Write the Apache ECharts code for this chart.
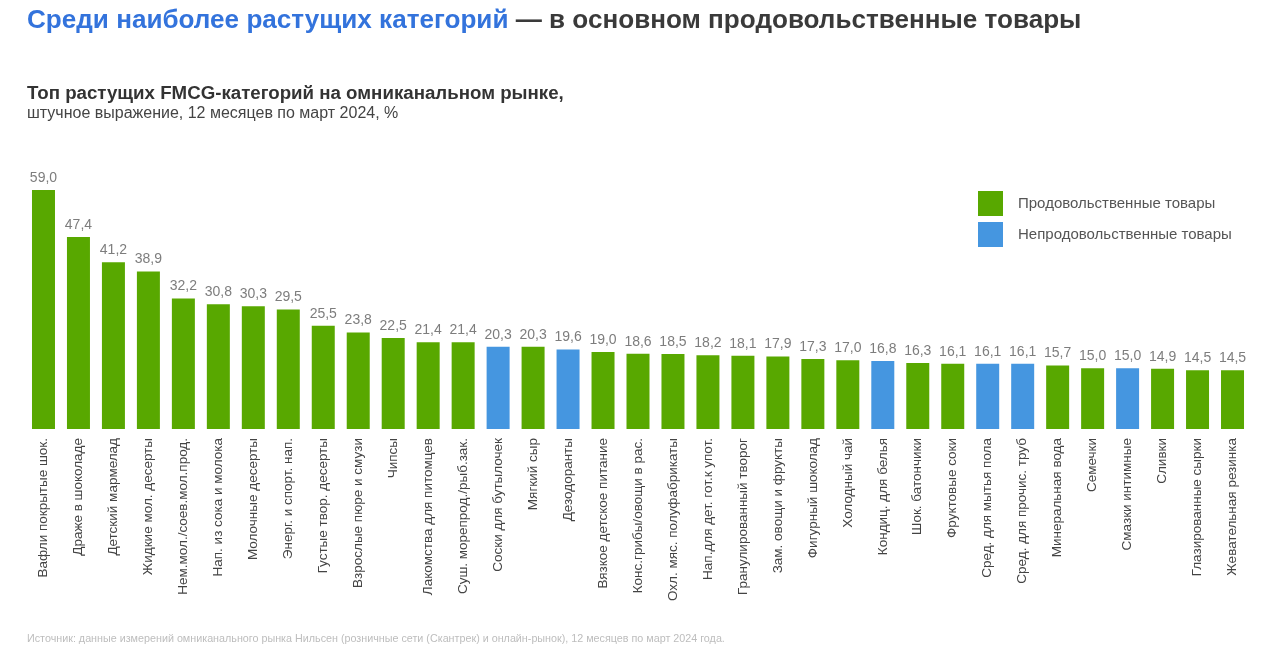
<!DOCTYPE html>
<html><head><meta charset="utf-8">
<script src="https://cdn.jsdelivr.net/npm/echarts@6/dist/echarts.min.js"></script>
<style>html,body{margin:0;padding:0;background:#fff}#c{width:1280px;height:648px}</style>
</head><body><div id="c"></div>
<script>
const categories = ["Вафли покрытые шок.","Драже в шоколаде","Детский мармелад","Жидкие мол. десерты","Нем.мол./соев.мол.прод.","Нап. из сока и молока","Молочные десерты","Энерг. и спорт. нап.","Густые твор. десерты","Взрослые пюре и смузи","Чипсы","Лакомства для питомцев","Суш. морепрод./рыб.зак.","Соски для бутылочек","Мягкий сыр","Дезодоранты","Вязкое детское питание","Конс.грибы/овощи в рас.","Охл. мяс. полуфабрикаты","Нап.для дет. гот.к упот.","Гранулированный творог","Зам. овощи и фрукты","Фигурный шоколад","Холодный чай","Кондиц. для белья","Шок. батончики","Фруктовые соки","Сред. для мытья пола","Сред. для прочис. труб","Минеральная вода","Семечки","Смазки интимные","Сливки","Глазированные сырки","Жевательная резинка"];
const values = [59.0,47.4,41.2,38.9,32.2,30.8,30.3,29.5,25.5,23.8,22.5,21.4,21.4,20.3,20.3,19.6,19.0,18.6,18.5,18.2,18.1,17.9,17.3,17.0,16.8,16.3,16.1,16.1,16.1,15.7,15.0,15.0,14.9,14.5,14.5];
const types = ["f","f","f","f","f","f","f","f","f","f","f","f","f","n","f","n","f","f","f","f","f","f","f","f","n","f","f","n","n","f","f","n","f","f","f"];
const seriesNames = ["Продовольственные товары","Непродовольственные товары"];
const title1 = "Среди наиболее растущих категорий";
const title2 = " — в основном продовольственные товары";
const subtitle1 = "Топ растущих FMCG-категорий на омниканальном рынке,";
const subtitle2 = "штучное выражение, 12 месяцев по март 2024, %";
const source = "Источник: данные измерений омниканального рынка Нильсен (розничные сети (Скантрек) и онлайн-рынок), 12 месяцев по март 2024 года.";

const GREEN = "#58a800", BLUE = "#4596e0";
const foodData = values.map((v,i)=> types[i]==="f" ? v : "-");
const nonData = values.map((v,i)=> types[i]==="n" ? v : "-");
const fmt = p => p.value.toFixed(1).replace(".", ",");
const ff = "Liberation Sans, Arial, sans-serif";
const labelCfg = {show:true, position:"top", distance:5, formatter:fmt, color:"#7d7d7d", fontSize:14, fontFamily:ff};

const chart = echarts.init(document.getElementById("c"), null, {renderer:"canvas"});
chart.setOption({
  backgroundColor:"#fff",
  animation:false,
  textStyle:{fontFamily:ff},
  title:[
    {text:"{a|"+title1+"}{b|"+title2+"}", left:22, top:3, textStyle:{rich:{
      a:{color:"#3373dc", fontSize:26.1, fontWeight:"bold", fontFamily:ff},
      b:{color:"#3a3a3a", fontSize:26.1, fontWeight:"bold", fontFamily:ff}}}},
    {text:subtitle1, left:22, top:79, textStyle:{color:"#333", fontSize:18.7, fontWeight:"bold", fontFamily:ff}},
    {text:subtitle2, left:22, top:101, textStyle:{color:"#444", fontSize:16, fontWeight:"normal", fontFamily:ff}},
    {text:source, left:22, top:629, textStyle:{color:"#bdbdbd", fontSize:10.75, fontWeight:"normal", fontFamily:ff}}
  ],
  legend:{orient:"vertical", left:973, top:186, itemWidth:25, itemHeight:25, itemGap:6, icon:"rect",
    textStyle:{color:"#555", fontSize:15, fontFamily:ff, padding:[0,0,0,10]}, data:seriesNames},
  grid:{left:26, right:30, top:186, bottom:219, containLabel:false},
  xAxis:{type:"category", data:categories, axisLine:{show:false}, axisTick:{show:false},
    axisLabel:{interval:0, rotate:90, margin:9, color:"#444", fontSize:13.5, fontFamily:ff}},
  yAxis:{type:"value", min:0, max:60, show:false, splitLine:{show:false}},
  series:[
    {name:seriesNames[0], type:"bar", stack:"s", data:foodData, barWidth:23, itemStyle:{color:GREEN}, label:labelCfg},
    {name:seriesNames[1], type:"bar", stack:"s", data:nonData, barWidth:23, itemStyle:{color:BLUE}, label:labelCfg}
  ]
});
</script></body></html>
